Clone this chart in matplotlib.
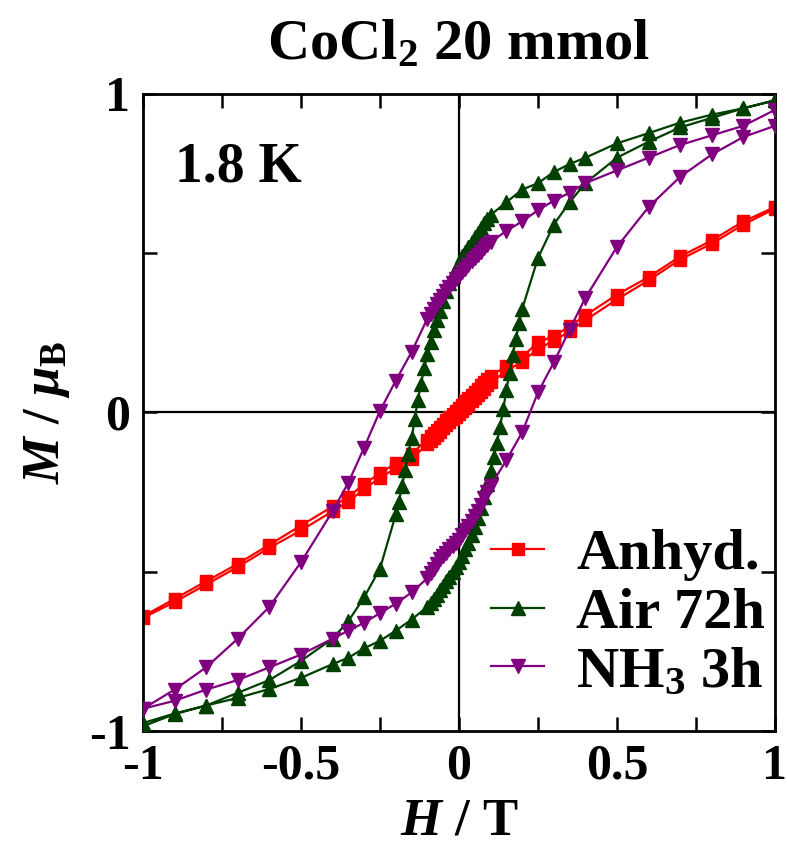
import matplotlib
matplotlib.use("Agg")
import matplotlib.pyplot as plt
from matplotlib.ticker import FixedLocator

plt.rcParams['font.family'] = ['Liberation Serif', 'DejaVu Serif']
plt.rcParams['font.weight'] = 'bold'
plt.rcParams['axes.titleweight'] = 'bold'
plt.rcParams['axes.labelweight'] = 'bold'
plt.rcParams['mathtext.fontset'] = 'custom'
plt.rcParams['mathtext.rm'] = 'Liberation Serif:bold'
plt.rcParams['mathtext.it'] = 'Liberation Serif:italic:bold'
plt.rcParams['mathtext.bf'] = 'Liberation Serif:bold'
plt.rcParams['axes.unicode_minus'] = False

# field grids (T)
H_green_down = [1.0, 0.9, 0.8, 0.7, 0.6, 0.5, 0.4, 0.35, 0.3, 0.25, 0.2, 0.15,
                0.10, 0.09, 0.08, 0.07, 0.06, 0.05, 0.04, 0.03, 0.02, 0.01, 0.00,
                -0.01, -0.02, -0.03, -0.04, -0.05, -0.06, -0.07, -0.08, -0.09, -0.10,
                -0.11, -0.12, -0.13, -0.14, -0.15, -0.16, -0.17, -0.18, -0.19, -0.20,
                -0.25, -0.3, -0.35, -0.4, -0.5, -0.6, -0.7, -0.8, -0.9, -1.0]
H_green_up = [-1.0, -0.9, -0.8, -0.7, -0.6, -0.5, -0.4, -0.35, -0.3, -0.25, -0.2, -0.15,
              -0.10, -0.09, -0.08, -0.07, -0.06, -0.05, -0.04, -0.03, -0.02, -0.01, 0.00,
              0.01, 0.02, 0.03, 0.04, 0.05, 0.06, 0.07, 0.08, 0.09, 0.10,
              0.11, 0.12, 0.13, 0.14, 0.15, 0.16, 0.17, 0.18, 0.19, 0.20,
              0.25, 0.3, 0.35, 0.4, 0.5, 0.6, 0.7, 0.8, 0.9, 1.0]
H_down = [1.0, 0.9, 0.8, 0.7, 0.6, 0.5, 0.4, 0.35, 0.3, 0.25, 0.2, 0.15,
          0.10, 0.09, 0.08, 0.07, 0.06, 0.05, 0.04, 0.03, 0.02, 0.01, 0.00,
          -0.01, -0.02, -0.03, -0.04, -0.05, -0.06, -0.07, -0.08, -0.09, -0.10,
          -0.15, -0.2, -0.25, -0.3, -0.35, -0.4, -0.5, -0.6, -0.7, -0.8, -0.9, -1.0]
H_up = [-1.0, -0.9, -0.8, -0.7, -0.6, -0.5, -0.4, -0.35, -0.3, -0.25, -0.2, -0.15,
        -0.10, -0.09, -0.08, -0.07, -0.06, -0.05, -0.04, -0.03, -0.02, -0.01, 0.00,
        0.01, 0.02, 0.03, 0.04, 0.05, 0.06, 0.07, 0.08, 0.09, 0.10,
        0.15, 0.2, 0.25, 0.3, 0.35, 0.4, 0.5, 0.6, 0.7, 0.8, 0.9, 1.0]

# magnetization (mu_B)
M_anhyd_down = [0.645, 0.60, 0.54, 0.49, 0.425, 0.37, 0.305, 0.27, 0.24, 0.22, 0.175, 0.145,
                0.115, 0.105, 0.095, 0.085, 0.075, 0.065, 0.055, 0.045, 0.035, 0.025, 0.015,
                0.005, -0.005, -0.015, -0.025, -0.035, -0.045, -0.055, -0.065, -0.075, -0.085,
                -0.13, -0.16, -0.19, -0.225, -0.265, -0.295, -0.355, -0.415, -0.475, -0.53, -0.585, -0.64]
M_anhyd_up = [-0.645, -0.595, -0.54, -0.485, -0.425, -0.37, -0.31, -0.28, -0.24, -0.205, -0.175, -0.145,
              -0.10, -0.09, -0.08, -0.07, -0.06, -0.05, -0.04, -0.03, -0.02, -0.015, -0.005,
              0.005, 0.015, 0.025, 0.035, 0.045, 0.055, 0.065, 0.075, 0.085, 0.095,
              0.13, 0.16, 0.20, 0.225, 0.255, 0.29, 0.355, 0.415, 0.48, 0.53, 0.59, 0.64]

M_air_down = [0.98, 0.955, 0.935, 0.91, 0.877, 0.845, 0.80, 0.78, 0.755, 0.72, 0.70, 0.66,
              0.62, 0.607, 0.595, 0.58, 0.565, 0.55, 0.535, 0.52, 0.505, 0.49, 0.47,
              0.45, 0.43, 0.405, 0.38, 0.35, 0.32, 0.29, 0.26, 0.22, 0.185,
              0.14, 0.09, 0.04, -0.02, -0.08, -0.13, -0.18, -0.23, -0.28, -0.32,
              -0.49, -0.58, -0.655, -0.71, -0.78, -0.84, -0.88, -0.92, -0.945, -0.975]
M_air_up = [-0.985, -0.947, -0.92, -0.896, -0.868, -0.833, -0.79, -0.77, -0.74, -0.717, -0.685, -0.65,
            -0.61, -0.598, -0.585, -0.572, -0.558, -0.545, -0.53, -0.515, -0.50, -0.485, -0.468,
            -0.45, -0.43, -0.41, -0.385, -0.36, -0.33, -0.30, -0.265, -0.225, -0.185,
            -0.14, -0.095, -0.045, 0.01, 0.07, 0.125, 0.18, 0.23, 0.28, 0.325,
            0.485, 0.59, 0.66, 0.72, 0.80, 0.85, 0.895, 0.925, 0.955, 0.98]

M_nh3_down = [0.95, 0.90, 0.87, 0.84, 0.80, 0.76, 0.72, 0.69, 0.665, 0.635, 0.60, 0.57,
              0.535, 0.525, 0.515, 0.505, 0.495, 0.485, 0.475, 0.463, 0.452, 0.44, 0.43,
              0.418, 0.405, 0.393, 0.38, 0.367, 0.353, 0.34, 0.325, 0.31, 0.295,
              0.19, 0.10, 0.005, -0.11, -0.22, -0.31, -0.47, -0.61, -0.71, -0.80, -0.87, -0.93]
M_nh3_up = [-0.93, -0.905, -0.87, -0.84, -0.80, -0.76, -0.71, -0.685, -0.66, -0.63, -0.60, -0.565,
            -0.52, -0.505, -0.49, -0.475, -0.46, -0.45, -0.44, -0.43, -0.42, -0.41, -0.40,
            -0.385, -0.37, -0.355, -0.34, -0.325, -0.31, -0.29, -0.27, -0.25, -0.23,
            -0.15, -0.062, 0.063, 0.157, 0.26, 0.36, 0.52, 0.645, 0.74, 0.81, 0.865, 0.90]

fig = plt.figure(figsize=(7.87, 8.52), dpi=100)
ax = fig.add_axes([0.1817, 0.142, 0.803, 0.7477])

ax.axhline(0, color='black', lw=1.6, zorder=1)
ax.axvline(0, color='black', lw=1.6, zorder=1)

ax.plot(H_down + H_up, M_anhyd_down + M_anhyd_up, '-s', color='#ff0000',
        ms=9, lw=1.6, label='Anhyd.', zorder=2)
ax.plot(H_green_down + H_green_up, M_air_down + M_air_up, '-^', color='#004000',
        ms=10.5, lw=1.6, label='Air 72h', zorder=3)
ax.plot(H_down + H_up, M_nh3_down + M_nh3_up, '-v', color='#800080',
        ms=10.5, lw=1.6, label='NH$_3$ 3h', zorder=4)

ax.set_xlim(-1, 1)
ax.set_ylim(-1, 1)
ax.xaxis.set_major_locator(FixedLocator([-1, -0.5, 0, 0.5, 1]))
ax.xaxis.set_minor_locator(FixedLocator([-0.75, -0.25, 0.25, 0.75]))
ax.yaxis.set_major_locator(FixedLocator([-1, 0, 1]))
ax.yaxis.set_minor_locator(FixedLocator([-0.5, 0.5]))
ax.set_xticklabels(['-1', '-0.5', '0', '0.5', '1'])
ax.set_yticklabels(['-1', '0', '1'])
ax.tick_params(which='both', direction='in', top=True, right=True,
               length=10, width=1.8, labelsize=36, pad=9)
for s in ax.spines.values():
    s.set_linewidth(2.0)

ax.set_xlabel('$H$ / T', fontsize=38, labelpad=6)
ax.set_ylabel('$M$ / $\\mu_\\mathrm{B}$', fontsize=38, labelpad=12)
ax.set_title('CoCl$_2$ 20 mmol', fontsize=42, pad=25)
ax.text(0.05, 0.885, '1.8 K', transform=ax.transAxes, fontsize=40,
        ha='left', va='center')

ax.legend(loc='lower right', fontsize=42, frameon=False, handlelength=0.9,
          handletextpad=0.55, labelspacing=0.1, borderaxespad=0.0,
          numpoints=1, bbox_to_anchor=(1.021, 0.014))

fig.savefig('out.png', dpi=100)
